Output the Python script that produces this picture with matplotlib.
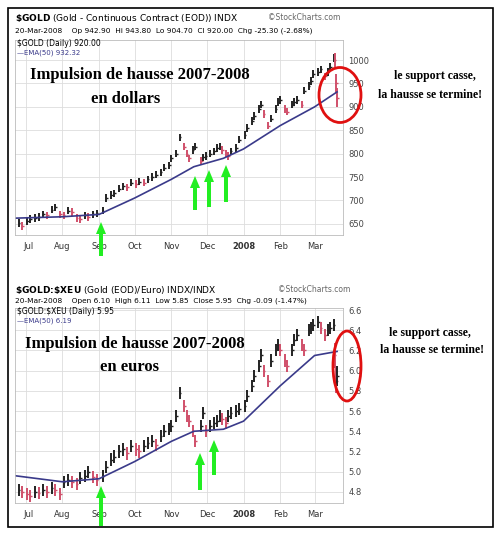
import matplotlib
matplotlib.use("Agg")
import matplotlib.pyplot as plt
import matplotlib.dates as mdates
from matplotlib.patches import Ellipse, Rectangle, FancyArrow
import pandas as pd

dates_usd = ["2007-06-25","2007-06-28","2007-07-02","2007-07-05","2007-07-09","2007-07-12","2007-07-16","2007-07-19","2007-07-23","2007-07-26",
 "2007-07-30","2007-08-02","2007-08-06","2007-08-09","2007-08-13","2007-08-16","2007-08-20","2007-08-23","2007-08-27","2007-08-30",
 "2007-09-04","2007-09-07","2007-09-11","2007-09-14","2007-09-18","2007-09-21","2007-09-25","2007-09-28","2007-10-02","2007-10-05",
 "2007-10-09","2007-10-12","2007-10-16","2007-10-19","2007-10-23","2007-10-26","2007-10-30","2007-11-01","2007-11-05","2007-11-08",
 "2007-11-12","2007-11-14","2007-11-16","2007-11-19","2007-11-21","2007-11-26","2007-11-28","2007-11-30","2007-12-04","2007-12-07",
 "2007-12-10","2007-12-12","2007-12-14","2007-12-17","2007-12-19","2007-12-21","2007-12-26","2007-12-28","2008-01-02","2008-01-04",
 "2008-01-08","2008-01-10","2008-01-14","2008-01-16","2008-01-18","2008-01-22","2008-01-24","2008-01-28","2008-01-30","2008-02-01",
 "2008-02-05","2008-02-07","2008-02-11","2008-02-13","2008-02-15","2008-02-19","2008-02-21","2008-02-25","2008-02-27","2008-02-29",
 "2008-03-04","2008-03-06","2008-03-10","2008-03-12","2008-03-14","2008-03-17","2008-03-18","2008-03-19","2008-03-20"]
close_usd = [652,645,655,660,662,665,670,668,680,685,
 670,668,678,675,662,660,668,665,670,672,
 678,705,712,715,725,730,728,738,735,740,
 738,745,750,755,760,770,775,790,800,835,
 815,800,790,808,815,785,792,795,800,805,
 812,815,808,800,795,805,812,830,840,855,
 870,880,895,905,885,860,875,895,910,915,
 895,890,905,910,915,905,935,945,955,970,
 975,980,965,975,985,1005,1000,950,920]
hl_usd = [16]*86 + [30, 40, 40]
ema_dates_usd = ["2007-06-22","2007-08-01","2007-09-01","2007-10-01","2007-11-01","2007-11-20","2007-12-15","2008-01-01","2008-02-01","2008-03-01","2008-03-20"]
ema_usd = [662,665,670,705,745,772,790,810,860,900,932]

dates_eur = dates_usd
close_eur = [4.82,4.80,4.78,4.76,4.80,4.79,4.82,4.80,4.84,4.82,
 4.78,4.90,4.92,4.90,4.88,4.94,4.96,5.00,4.95,4.92,
 4.96,5.05,5.12,5.15,5.20,5.22,5.18,5.25,5.22,5.20,
 5.25,5.28,5.30,5.26,5.35,5.40,5.42,5.45,5.55,5.78,
 5.65,5.55,5.50,5.40,5.30,5.45,5.58,5.40,5.45,5.48,
 5.50,5.55,5.52,5.48,5.55,5.58,5.60,5.62,5.65,5.75,
 5.85,5.95,6.05,6.15,6.00,5.90,6.10,6.20,6.25,6.20,
 6.10,6.05,6.20,6.30,6.35,6.25,6.20,6.40,6.42,6.45,
 6.48,6.42,6.35,6.40,6.42,6.45,6.15,5.90,5.95]
hl_eur = [0.12]*86 + [0.25, 0.25, 0.2]
ema_dates_eur = ema_dates_usd
ema_eur = [4.96,4.90,4.93,5.10,5.30,5.40,5.42,5.50,5.85,6.15,6.19]

W, H = 500, 534
fig = plt.figure(figsize=(5, 5.34), dpi=100)
def P(x, y): return (x / W, 1 - y / H)

fig.patches.append(Rectangle(P(8, 527), 485/W, 519/H, transform=fig.transFigure,
                             fill=False, ec="black", lw=1.2))

def panel(top, bottom, dates, close, hl, edates, ema, ylim, yticks, fmt):
    ax = fig.add_axes([15/W, 1-bottom/H, 328/W, (bottom-top)/H])
    d = pd.to_datetime(dates)
    prev = close[0]
    for x, c, r in zip(d, close, hl):
        col = "#222222" if c >= prev else "#d0506a"
        ax.vlines(x, c - r/2, c + r/2, color=col, lw=1.4)
        ax.hlines(c, x, x + pd.Timedelta(days=1.5), color=col, lw=1)
        prev = c
    ax.plot(pd.to_datetime(edates), ema, color="#3a3a8a", lw=1.2)
    ax.set_ylim(*ylim)
    ax.set_xlim(pd.Timestamp("2007-06-22"), pd.Timestamp("2008-03-25"))
    ax.set_yticks(yticks)
    ax.set_yticklabels([fmt(v) for v in yticks])
    ax.yaxis.tick_right()
    ax.xaxis.set_major_locator(mdates.MonthLocator())
    ax.set_xticklabels([])
    mids = pd.date_range("2007-07-01", "2008-03-01", freq="MS")
    labs = ["Jul","Aug","Sep","Oct","Nov","Dec","2008","Feb","Mar"]
    for m, l in zip(mids, labs):
        ax.text(m + pd.Timedelta(days=(0 if l != "Jul" else 2)), -0.035, l, transform=ax.get_xaxis_transform(),
                ha="center", va="top", fontsize=6, color="#333",
                fontweight="bold" if l == "2008" else "normal")
    ax.tick_params(axis="y", labelsize=6, length=0, pad=4, colors="#444")
    ax.tick_params(axis="x", length=0)
    ax.grid(True, color="#dddddd", lw=0.6)
    for s in ax.spines.values():
        s.set_color("#bbbbbb"); s.set_linewidth(0.6)
    return ax

panel(40, 235, dates_usd, close_usd, hl_usd, ema_dates_usd, ema_usd, (626, 1043),
      [650,700,750,800,850,900,950,1000], lambda v: f"{v}")
panel(308, 503, dates_eur, close_eur, hl_eur, ema_dates_eur, ema_eur, (4.69, 6.62),
      [4.8,5.0,5.2,5.4,5.6,5.8,6.0,6.2,6.4,6.6], lambda v: f"{v:.1f}")

def t(x, y, s, **kw):
    fig.text(*P(x, y), s, **kw)

t(15, 18, r"$\bf{\$GOLD}$ (Gold - Continuous Contract (EOD)) INDX", fontsize=6.5, va="center")
t(340, 18, "©StockCharts.com", fontsize=5.5, va="center", ha="right", color="#666")
t(15, 31, "20-Mar-2008    Op 942.90  Hi 943.80  Lo 904.70  Cl 920.00  Chg -25.30 (-2.68%)", fontsize=5.3, va="center")
t(17, 44, r"\$GOLD (Daily) 920.00", fontsize=5.5, va="center")
t(17, 53, "—EMA(50) 932.32", fontsize=5, va="center", color="#3a3a8a")
t(15, 290, r"$\bf{\$GOLD\!:\!\$XEU}$ (Gold (EOD)/Euro) INDX/INDX", fontsize=6.5, va="center")
t(350, 290, "©StockCharts.com", fontsize=5.5, va="center", ha="right", color="#666")
t(15, 301, "20-Mar-2008    Open 6.10  High 6.11  Low 5.85  Close 5.95  Chg -0.09 (-1.47%)", fontsize=5.3, va="center")
t(17, 311, r"\$GOLD:\$XEU (Daily) 5.95", fontsize=5.5, va="center")
t(17, 321, "—EMA(50) 6.19", fontsize=5, va="center", color="#3a3a8a")

serif = dict(family="Liberation Serif", fontweight="bold", va="center", ha="center")
t(140, 75, "Impulsion de hausse 2007-2008", fontsize=12, **serif)
t(126, 99, "en dollars", fontsize=12, **serif)
t(135, 344, "Impulsion de hausse 2007-2008", fontsize=12, **serif)
t(130, 367, "en euros", fontsize=12, **serif)
t(435, 76, "le support casse,", fontsize=8.5, **serif)
t(430, 95, "la hausse se termine!", fontsize=8.5, **serif)
t(430, 333, "le support casse,", fontsize=8.5, **serif)
t(432, 350, "la hausse se termine!", fontsize=8.5, **serif)

for cx, cy, w, h in [(340, 95, 42, 55), (347, 366, 28, 70)]:
    fig.patches.append(Ellipse(P(cx, cy), w/W, h/H, transform=fig.transFigure,
                               fill=False, ec="#e01010", lw=2))

for x, y0, y1 in [(101, 256, 222), (195, 210, 176), (209, 207, 170), (226, 202, 165),
                  (101, 526, 486), (200, 490, 453), (214, 475, 440)]:
    fig.patches.append(FancyArrow(*P(x, y0), 0, (y0 - y1)/H, width=4/W, head_width=10/W,
                                  head_length=12/H, length_includes_head=True,
                                  transform=fig.transFigure, color="#22ee22", lw=0))

fig.savefig("out.png", dpi=100)
